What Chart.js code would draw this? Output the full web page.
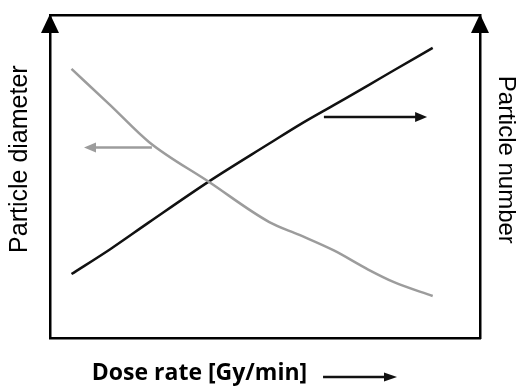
<!DOCTYPE html>
<html>
<head>
<meta charset="utf-8">
<script src="https://cdn.jsdelivr.net/npm/chart.js@4.4.1/dist/chart.umd.min.js"></script>
<style>
  html, body { margin: 0; padding: 0; background: #fff; }
  #wrap { width: 522px; height: 389px; }
</style>
</head>
<body>
<div id="wrap"><canvas id="c"></canvas></div>
<script>
// Schematic: particle diameter (left axis) falls, particle number (right axis) rises with dose rate.

// x positions along the dose-rate axis (arbitrary units, 0..100)
const doseRate = [5, 14, 23, 37, 51, 58, 66, 74, 80, 89];
// left axis, grey curve (arbitrary units, 0..100)
const particleDiameter = [83.3, 72.1, 60.7, 48.3, 35.9, 31.9, 27.1, 21.2, 17.3, 13.0];
// right axis, black curve (arbitrary units, 0..100)
const particleNumber = [19.8, 27.5, 35.8, 48.5, 60.2, 66.0, 72.1, 78.2, 82.9, 89.8];

// arrows telling which curve belongs to which axis: [xFrom, xTo, y]
const diameterArrow = [23.7, 7.9, 59];
const numberArrow = [63.7, 87.7, 68.4];
// arrow after the x-axis title: [xFrom, xTo]
const doseArrow = [63.5, 80.7];

const GREY = '#9c9c9c';
const BLACK = '#111';

function arrow(ctx, x0, y0, x1, y1, color, width, headLen, headHalf) {
  const dir = Math.sign(x1 - x0);
  ctx.save();
  ctx.strokeStyle = color; ctx.fillStyle = color; ctx.lineWidth = width;
  ctx.beginPath(); ctx.moveTo(x0, y0); ctx.lineTo(x1 - dir * headLen * 0.6, y1); ctx.stroke();
  ctx.beginPath();
  ctx.moveTo(x1, y1);
  ctx.lineTo(x1 - dir * headLen, y1 - headHalf);
  ctx.lineTo(x1 - dir * headLen, y1 + headHalf);
  ctx.closePath(); ctx.fill();
  ctx.restore();
}

function upHead(ctx, x, y) {
  ctx.save();
  ctx.fillStyle = '#000';
  ctx.beginPath();
  ctx.moveTo(x, y - 1);
  ctx.lineTo(x - 9, y + 18);
  ctx.lineTo(x + 9, y + 18);
  ctx.closePath(); ctx.fill();
  ctx.restore();
}

const decorations = {
  id: 'decorations',
  afterDraw(chart) {
    const { ctx, chartArea: a, scales } = chart;
    const x = scales.x, yl = scales.y, yr = scales.y1;
    upHead(ctx, a.left, a.top);
    upHead(ctx, a.right, a.top);
    arrow(ctx, x.getPixelForValue(diameterArrow[0]), yl.getPixelForValue(diameterArrow[2]),
               x.getPixelForValue(diameterArrow[1]), yl.getPixelForValue(diameterArrow[2]),
               GREY, 2.5, 12, 5);
    arrow(ctx, x.getPixelForValue(numberArrow[0]), yr.getPixelForValue(numberArrow[2]),
               x.getPixelForValue(numberArrow[1]), yr.getPixelForValue(numberArrow[2]),
               BLACK, 2.5, 12, 5);
    const ty = x.bottom - 12;
    arrow(ctx, x.getPixelForValue(doseArrow[0]), ty, x.getPixelForValue(doseArrow[1]), ty,
          BLACK, 2.5, 13, 4.5);
  }
};

const axisBorder = { display: true, color: '#000', width: 2.5 };
const noGrid = { display: false, drawTicks: false };
const sp = n => '\u00a0'.repeat(n);

new Chart(document.getElementById('c'), {
  type: 'line',
  data: {
    datasets: [
      { label: 'Particle diameter', data: doseRate.map((d, i) => ({ x: d, y: particleDiameter[i] })),
        yAxisID: 'y', borderColor: GREY, borderWidth: 2.5, pointRadius: 0,
        cubicInterpolationMode: 'monotone' },
      { label: 'Particle number', data: doseRate.map((d, i) => ({ x: d, y: particleNumber[i] })),
        yAxisID: 'y1', borderColor: BLACK, borderWidth: 2.5, pointRadius: 0,
        cubicInterpolationMode: 'monotone' },
    ]
  },
  options: {
    animation: false, responsive: true, maintainAspectRatio: false,
    layout: { padding: { top: 15, left: 0, right: 0, bottom: 0 } },
    plugins: { legend: { display: false }, tooltip: { enabled: false } },
    scales: {
      x: { type: 'linear', min: 0, max: 100, position: 'bottom',
           grid: noGrid, ticks: { display: false }, border: axisBorder,
           title: { display: true, align: 'start', text: sp(7) + 'Dose rate [Gy/min]', color: '#000',
                    font: { family: 'Open Sans', size: 23, weight: 'bold' },
                    padding: { top: 22.1, bottom: 1.3 } } },
      xTop: { type: 'linear', min: 0, max: 100, position: 'top',
              grid: noGrid, ticks: { display: false }, border: axisBorder },
      y: { type: 'linear', min: 0, max: 100, position: 'left',
           grid: noGrid, ticks: { display: false }, border: axisBorder,
           title: { display: true, text: sp(5) + 'Particle diameter', color: '#000',
                    font: { family: 'Liberation Sans', size: 25 },
                    padding: { top: 5, bottom: 15 } } },
      y1: { type: 'linear', min: 0, max: 100, position: 'right',
            grid: noGrid, ticks: { display: false }, border: axisBorder,
            title: { display: true, text: 'Particle number' + sp(5), color: '#000',
                     font: { family: 'Liberation Sans', size: 24 },
                     padding: { top: 1.6, bottom: 11.6 } } },
    }
  },
  plugins: [decorations]
});
</script>
</body>
</html>
